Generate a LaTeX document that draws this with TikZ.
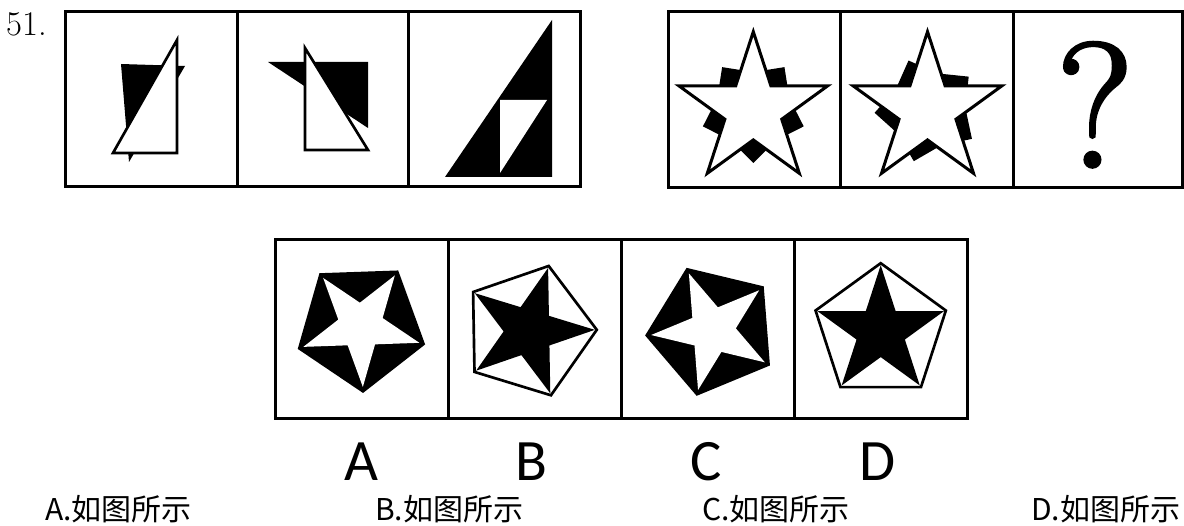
\documentclass[tikz,border=0pt]{standalone}
\usepackage{fontspec}
\newfontfamily\cjk{Noto Sans CJK SC}
\newfontfamily\carlito{Carlito}
\newfontfamily\qfont[FakeBold=2]{Latin Modern Roman}
\usetikzlibrary{positioning}

% outline paths, drawn round the current origin
\newcommand{\starpath}[3]{(#3:#1) \foreach \k in {1,...,9}{ -- ({#3+36*\k}:{#1+(#2-#1)*mod(\k,2)}) } -- cycle}
\newcommand{\pentpath}[2]{(#2:#1) \foreach \k in {1,...,4}{ -- ({#2+72*\k}:#1) } -- cycle}
\newcommand{\notchpath}[1]{(#1:53) -- ({#1+39.6}:37.6) -- (#1:5) -- ({#1-39.6}:37.6) -- cycle}

\begin{document}
\begin{tikzpicture}[
    x=0.75pt,y=0.75pt,
    frame/.style={line width=2.25pt, line join=miter},
    blackpart/.style={fill=black},
    whitepart/.style={fill=white, draw=black, line width=2pt, line join=miter},
    staredge/.style={fill=white, draw=black, line width=2.25pt, line join=miter},
    pentedge/.style={fill=white, draw=black, line width=2pt, line join=miter},
    optletter/.style={font=\carlito\fontsize{44}{44}\selectfont, anchor=base, inner sep=0pt},
    answer/.style={font=\cjk\fontsize{22.5}{23}\selectfont, anchor=base west, inner sep=0pt}
]
    \useasboundingbox (0,0) rectangle (1184,525);

    % --- Question number ---
    \node[anchor=base west, inner sep=0pt, font=\fontsize{26}{26}\selectfont] (qnum) at (6,489) {51.};

    % --- Frames ---
    \draw[frame] (65,338) rectangle (580,513);
    \draw[frame] (237,338) -- (237,513);
    \draw[frame] (408,338) -- (408,513);

    \draw[frame] (668,337) rectangle (1182,513);
    \draw[frame] (840,337) -- (840,513);
    \draw[frame] (1013,337) -- (1013,513);

    \draw[frame] (275,107) rectangle (967,285);
    \draw[frame] (448,107) -- (448,285);
    \draw[frame] (621,107) -- (621,285);
    \draw[frame] (794,107) -- (794,285);

    % --- Triangles, first group ---
    \fill[blackpart] (121,461) -- (185,459) -- (129,363) -- cycle;
    \draw[whitepart] (177,485) -- (113,372) -- (177,372) -- cycle;

    \fill[blackpart] (268,463) -- (368,463) -- (368,397) -- cycle;
    \draw[whitepart] (305,477) -- (305,375) -- (368,375) -- cycle;

    \fill[blackpart] (552,505) -- (445,348) -- (552,348) -- cycle;
    \fill[white] (500,425) -- (547,425) -- (500,352) -- cycle;

    % --- Stars, second group ---
    \begin{scope}[shift={(753.3,415)}]
        \foreach \a in {54,126,198,270,342}
            \fill[blackpart] \notchpath{\a};
        \draw[staredge] \starpath{78.3}{29.9}{90};
    \end{scope}

    \begin{scope}[shift={(927.5,415)}]
        \foreach \a in {39,111,183,255,327}
            \fill[blackpart] \notchpath{\a};
        \draw[staredge] \starpath{78.3}{29.9}{90};
    \end{scope}

    \node[anchor=base, inner sep=0pt, font=\qfont\fontsize{133}{133}\selectfont] (qmark) at (1095,358) {?};

    % --- Options ---
    \begin{scope}[shift={(360.7,199)}]
        \fill[blackpart] \pentpath{67}{56};
        \fill[white] \starpath{61}{23.3}{56};
    \end{scope}

    \begin{scope}[shift={(528.8,194)}]
        \draw[pentedge] \pentpath{68}{1};
        \fill[blackpart] \starpath{66}{25.2}{1};
    \end{scope}

    \begin{scope}[shift={(712.4,194.8)}]
        \fill[blackpart] \pentpath{67.5}{40.5};
        \fill[white] \starpath{61.5}{23.5}{40.5};
    \end{scope}

    \begin{scope}[shift={(880.7,193.3)}]
        \draw[pentedge] \pentpath{68.5}{90};
        \fill[blackpart] \starpath{66.5}{25.4}{90};
    \end{scope}

    % --- Option letters ---
    \node[optletter] (labA) at (361,45) {A};
    \node[optletter] (labB) at (531,45) {B};
    \node[optletter] (labC) at (706,45) {C};
    \node[optletter] (labD) at (878,45) {D};

    % --- Answers ---
    \node[answer] (ansA) at (45,5) {A.如图所示};
    \node[answer] (ansB) at (375,5) {B.如图所示};
    \node[answer] (ansC) at (702,5) {C.如图所示};
    \node[answer] (ansD) at (1031,5) {D.如图所示};

\end{tikzpicture}
\end{document}
